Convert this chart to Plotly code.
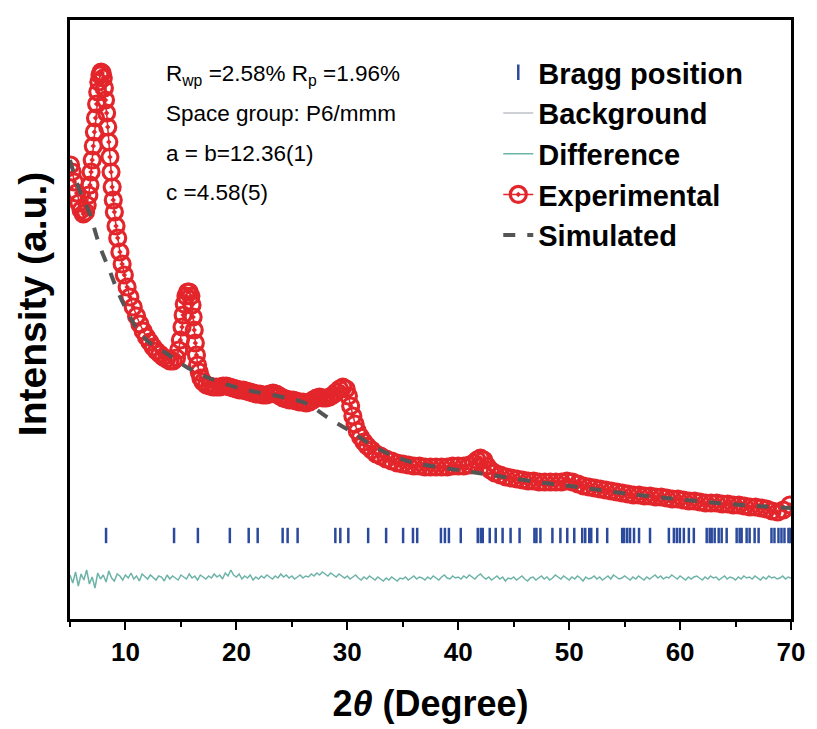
import numpy as np
import plotly.graph_objects as go

# ---------------- data ----------------
exp_x = [5.05, 5.2, 5.4, 5.6, 5.8, 6.0, 6.2, 6.4, 6.55, 6.7, 6.8, 6.9, 7.0, 7.1, 7.2, 7.3, 7.4, 7.5, 7.6, 7.7,
         7.8, 7.9, 8.0, 8.1, 8.2, 8.3, 8.4, 8.5, 8.6, 8.7, 8.8, 8.9, 9.0, 9.15, 9.3, 9.5, 9.7, 9.9, 10.15, 10.4,
         10.7, 11.0, 11.3, 11.6, 11.9, 12.2, 12.5, 12.8, 13.1, 13.4, 13.7, 14.0, 14.3, 14.6, 14.8, 14.95, 15.1, 15.2, 15.3, 15.45,
         15.6, 15.75, 15.9, 16.0, 16.1, 16.2, 16.3, 16.4, 16.5, 16.65, 16.8, 17.0, 17.3, 17.6, 17.9, 18.2, 18.5, 18.8, 19.1, 19.4,
         19.7, 20.0, 20.3, 20.6, 20.9, 21.2, 21.5, 21.8, 22.1, 22.4, 22.7, 23.0, 23.3, 23.6, 23.9, 24.2, 24.5, 24.8, 25.1, 25.4,
         25.7, 26.0, 26.3, 26.6, 26.9, 27.2, 27.5, 27.8, 28.1, 28.4, 28.7, 29.0, 29.3, 29.6, 29.9, 30.1, 30.3, 30.5, 30.7, 30.9,
         31.2, 31.5, 31.8, 32.2, 32.6, 33.0, 33.5, 34.0, 34.5, 35.0, 35.5, 36.0, 36.5, 37.0, 37.5, 38.0, 38.5, 39.0, 39.5, 40.0,
         40.5, 41.0, 41.4, 41.7, 42.0, 42.3, 42.6, 42.9, 43.3, 43.8, 44.3, 44.8, 45.3, 45.8, 46.3, 46.8, 47.3, 47.8, 48.3, 48.8,
         49.3, 49.8, 50.3, 50.8, 51.3, 51.8, 52.3, 52.8, 53.3, 53.8, 54.3, 54.8, 55.3, 55.8, 56.3, 56.8, 57.3, 57.8, 58.3, 58.8,
         59.3, 59.8, 60.3, 60.8, 61.3, 61.8, 62.3, 62.8, 63.3, 63.8, 64.3, 64.8, 65.3, 65.8, 66.3, 66.8, 67.3, 67.8, 68.3, 68.8,
         69.3, 69.9]
exp_y = [454, 447, 437, 426, 416, 409, 405, 407, 414, 424, 434, 447, 459, 473, 487, 501, 515, 527, 537, 544,
         547, 546, 541, 531, 519, 506, 492, 477, 462, 447, 432, 419, 407, 393, 381, 367, 355, 344, 332, 322,
         312, 303, 295, 288, 282, 277, 272, 268, 265, 262, 260, 258, 258, 261, 269, 279, 292, 304, 315, 323,
         327, 327, 323, 314, 302, 289, 276, 264, 254, 247, 241, 237, 234, 233, 232, 232, 232, 233, 233, 232,
         231, 230, 229, 229, 228, 227, 226, 225, 225, 224, 224, 225, 226, 225, 223, 221, 220, 219, 219, 218,
         217, 217, 216, 217, 219, 221, 222, 221, 221, 222, 224, 227, 230, 232, 230, 223, 213, 203, 195, 188,
         182, 177, 173, 169, 165, 163, 160, 158, 156, 155, 154, 153, 153, 152, 152, 152, 152, 152, 153, 153,
         153, 154, 156, 159, 161, 159, 153, 149, 146, 144, 142, 141, 140, 139, 138, 138, 137, 137, 137, 137,
         137, 138, 137, 135, 133, 132, 131, 130, 129, 128, 127, 126, 125, 124, 124, 123, 123, 122, 122, 121,
         120, 120, 119, 118, 118, 117, 116, 116, 116, 115, 115, 114, 114, 113, 112, 112, 111, 110, 108, 107,
         109, 114]

sim_x = [5.0, 5.85, 6.75, 7.65, 8.55, 9.45, 11.0, 12.1, 13.5, 15.5, 16.0, 17.5, 20.2, 24.1, 26.2, 28.3, 30.1, 33.0,
         35.7, 38.8, 41.8, 44.7, 47.8, 50.1, 53.4, 57.0, 62.4, 66.9, 70.0]
sim_y = [459, 429, 406, 374, 349, 324, 291, 277, 267, 252, 249, 241, 231, 222, 216, 201, 189, 169,
         157, 151, 146, 141, 136, 133, 128, 123, 117, 113, 111]

diff_x0, diff_dx = 5.0, 0.25
diff_y = [44, 36, 47, 33, 45, 39, 49, 35, 42, 31,
          46, 40, 44, 37, 48, 41, 38, 45, 43, 39,
          44, 41, 46, 40, 43, 38, 45, 42, 40, 44,
          41, 39, 43, 42, 38, 44, 40, 43, 41, 39,
          44, 42, 40, 45, 41, 43, 39, 44, 42, 40,
          43, 41, 45, 42, 44, 40, 46, 43, 49, 44,
          42, 45, 40, 43, 41, 44, 39, 42, 40, 43,
          41, 44, 42, 40, 43, 41, 45, 42, 44, 41,
          43, 40, 42, 44, 41, 43, 42, 45, 43, 46,
          44, 47, 45, 43, 46, 44, 42, 45, 43, 41,
          43, 40, 42, 44, 41, 39, 42, 40, 43, 41,
          39, 42, 40, 38, 41, 39, 42, 40, 38, 41,
          40, 42, 39, 41, 43, 40, 42, 41, 39, 42,
          40, 43, 41, 39, 42, 44, 41, 40, 43, 41,
          42, 40, 43, 41, 44, 42, 40, 43, 45, 42,
          40, 42, 39, 41, 43, 40, 42, 38, 41, 40,
          42, 39, 41, 43, 40, 38, 41, 42, 39, 41,
          43, 40, 42, 39, 41, 44, 42, 40, 43, 41,
          39, 42, 40, 43, 41, 38, 42, 40, 41, 43,
          40, 42, 39, 41, 43, 40, 44, 42, 40, 41,
          43, 41, 39, 42, 40, 43, 41, 39, 42, 40,
          42, 44, 41, 43, 40, 42, 41, 44, 42, 40,
          43, 41, 39, 42, 40, 42, 43, 41, 39, 42,
          40, 43, 41, 42, 39, 41, 43, 40, 42, 41,
          39, 42, 40, 43, 41, 42, 40, 43, 41, 39,
          42, 40, 43, 41, 42, 40, 41, 43, 40, 42,
          41]
diff_x = [diff_x0 + i * diff_dx for i in range(len(diff_y))]

bragg_x = [8.25, 14.38, 16.53, 19.41, 21.11, 21.92, 24.17, 24.62, 25.52, 28.92, 29.37, 30.09, 31.88, 33.50,
           35.03, 35.92, 36.3, 38.44, 38.80, 39.16, 40.23, 41.76, 42.03, 42.21, 42.84, 43.38, 44.0, 44.72,
           45.53, 46.87, 47.05, 47.41, 48.49, 49.21, 49.83, 50.46, 51.18, 51.45, 51.81, 51.99, 52.53, 53.43,
           54.78, 54.96, 55.23, 55.49, 55.85, 56.30, 57.29, 58.99, 59.44, 59.71, 59.98, 60.34, 60.79, 61.24,
           62.40, 62.67, 62.85, 63.12, 63.48, 63.75, 64.20, 65.10, 65.37, 65.55, 66.00, 66.27, 66.72, 67.08,
           68.24, 68.51, 68.87, 69.14, 69.41, 69.77, 69.95]
bragg_level = 83.5

info_lines = ["R<sub>wp</sub> =2.58% R<sub>p</sub> =1.96%", "Space group: P6/mmm",
              "a = b=12.36(1)", "c =4.58(5)"]
info_y = [544, 506, 466, 427]
info_x = 13.45

FONT = "Liberation Sans, Arial, sans-serif"
BRAGG_C = "#2b4a9b"

fig = go.Figure()

fig.add_trace(go.Scatter(x=[None], y=[None], mode="lines", name="Background",
                         line=dict(color="#9aa1ab", width=1), legendrank=2))
fig.add_trace(go.Scatter(x=diff_x, y=diff_y, mode="lines", name="Difference",
                         line=dict(color="#6db3a8", width=1.5), legendrank=3))
fig.add_trace(go.Scatter(x=bragg_x, y=[bragg_level] * len(bragg_x), mode="markers", name="Bragg position",
                         marker=dict(symbol="line-ns-open", size=11, color=BRAGG_C,
                                     line=dict(color=BRAGG_C, width=2.5)),
                         legendrank=1))
fig.add_trace(go.Scatter(x=exp_x, y=exp_y, mode="lines+markers", name="Experimental",
                         line=dict(color="#e3262b", width=1.5),
                         marker=dict(symbol="circle-open-dot", size=16, color="#e3262b",
                                     line=dict(color="#e3262b", width=3.2)),
                         legendrank=4))
fig.add_trace(go.Scatter(x=sim_x, y=sim_y, mode="lines", name="Simulated", line_shape="spline",
                         line=dict(color="#555555", width=4, dash="dash"), legendrank=5))

for t, yy in zip(info_lines, info_y):
    fig.add_annotation(x=info_x, y=yy, xref="x", yref="y", text=t, showarrow=False,
                       xanchor="left", yanchor="middle", font=dict(family=FONT, size=22.5, color="black"))

# y-axis title placed as rotated text
fig.add_annotation(x=-0.051, y=0.526, xref="paper", yref="paper", text="<b>Intensity (a.u.)</b>",
                   textangle=-90, showarrow=False, xanchor="center", yanchor="middle",
                   font=dict(family=FONT, size=39, color="black"))

fig.update_layout(
    width=817, height=729,
    margin=dict(l=70, r=22, t=20, b=110),
    paper_bgcolor="white", plot_bgcolor="white",
    font=dict(family=FONT, color="black"),
    showlegend=True,
    legend=dict(x=0.594, y=0.955, xanchor="left", yanchor="top", bgcolor="rgba(0,0,0,0)",
                font=dict(family=FONT, size=29, color="black", weight="bold"),
                itemsizing="trace", tracegroupgap=0),
    xaxis=dict(range=[5, 70], tickvals=[10, 20, 30, 40, 50, 60, 70], ticks="outside", ticklen=8,
               tickwidth=2, tickcolor="black", showline=True, linewidth=3, linecolor="black", mirror=True,
               showgrid=False, zeroline=False,
               minor=dict(tickvals=[5, 15, 25, 35, 45, 55, 65], ticks="outside", ticklen=5, tickwidth=2,
                          tickcolor="black"),
               tickfont=dict(family=FONT, size=26, color="black", weight="bold"),
               title=dict(text="<b>2<i>θ</i> (Degree)</b>", font=dict(family=FONT, size=36, color="black"),
                          standoff=25)),
    yaxis=dict(range=[0, 599], showticklabels=False, ticks="", showline=True, linewidth=3,
               linecolor="black", mirror=True, showgrid=False, zeroline=False),
)

fig.write_html("out.html")
